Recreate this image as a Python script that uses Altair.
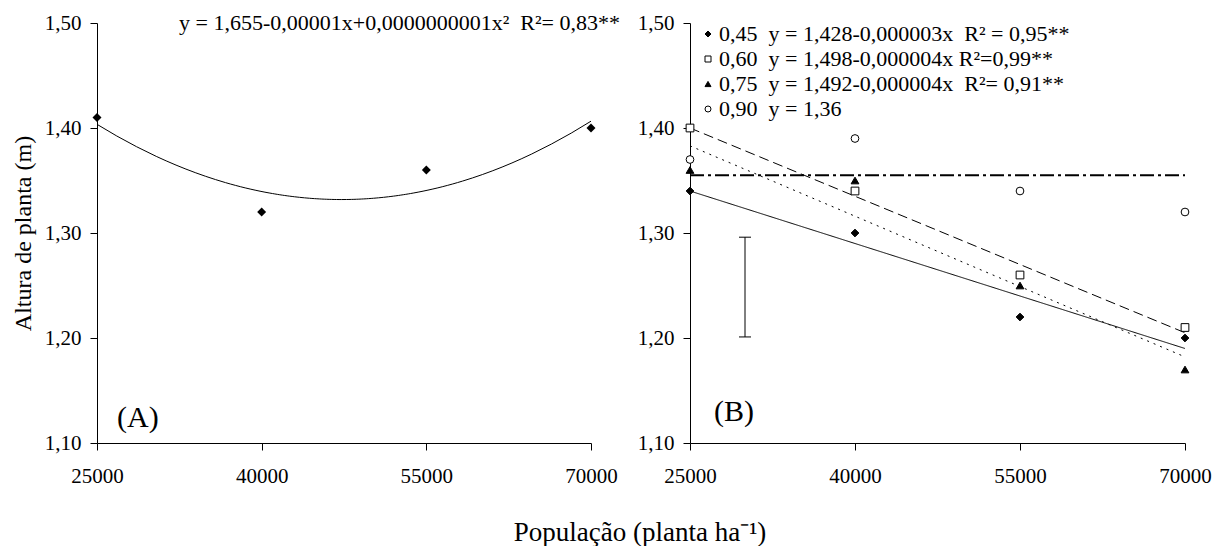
import altair as alt
import pandas as pd

FONT = "Liberation Serif"

# ---------------- data ----------------
populacao = [25000, 40000, 55000, 70000]

# Panel A
altura_a = [1.41, 1.32, 1.36, 1.40]
eq_a = "y = 1,655-0,00001x+0,0000000001x²\u00a0 R²= 0,83**"

# Panel B
serie_nomes = ["0,45", "0,60", "0,75", "0,90"]
serie_eqs = [
    "y = 1,428-0,000003x\u00a0 R² = 0,95**",
    "y = 1,498-0,000004x R²=0,99**",
    "y = 1,492-0,000004x\u00a0 R²= 0,91**",
    "y = 1,36",
]
altura_045 = [1.34, 1.30, 1.22, 1.20]
altura_060 = [1.40, 1.34, 1.26, 1.21]
altura_075 = [1.36, 1.35, 1.25, 1.17]
altura_090 = [1.37, 1.39, 1.34, 1.32]
series_b = [altura_045, altura_060, altura_075, altura_090]

# error bar (DMS)
erro_x = [30000]
erro_min = [1.201]
erro_max = [1.296]

y_ticks = [1.10, 1.20, 1.30, 1.40, 1.50]

# ---------------- tables ----------------
df_a = pd.DataFrame({"pop": populacao, "altura": altura_a})

labels = [n + "\u00a0 " + e for n, e in zip(serie_nomes, serie_eqs)]
rows = []
for lab, vals in zip(labels, series_b):
    for p, v in zip(populacao, vals):
        rows.append({"serie": lab, "pop": p, "altura": v})
df_b = pd.DataFrame(rows)
df_err = pd.DataFrame({"ex": erro_x, "lo": erro_min, "hi": erro_max})

# ---------------- styles ----------------
shapes = ["diamond", "square", "triangle-up", "circle"]
fills = ["black", "white", "black", "white"]
strokes = ["black", "black", "black", "black"]
dashes = [[1, 0], [10, 5], [2, 5]]

W, H = 494, 420
SPACING = 99

xscale = alt.Scale(domain=[25000, 70000], nice=False, zero=False)
yscale = alt.Scale(domain=[1.10, 1.50], nice=False, zero=False)


def xaxis():
    return alt.Axis(values=populacao, format="d", title=None, grid=False,
                    tickSize=7, labelPadding=15, labelFontSize=21,
                    labelFont=FONT, labelColor="black", domainColor="black",
                    tickColor="black", labelFlush=False, labelOverlap=False)


def yaxis(title):
    kw = dict(values=y_ticks, labelExpr="replace(format(datum.value,'.2f'),'.',',')",
              grid=False, tickSize=7, labelPadding=9, labelFontSize=21,
              labelFont=FONT, labelColor="black", domainColor="black",
              tickColor="black", labelFlush=False, labelOverlap=False)
    if title:
        kw.update(title=title, titleFont=FONT, titleFontSize=24,
                  titleFontWeight="normal", titleColor="black", titlePadding=9)
    else:
        kw.update(title=None)
    return alt.Axis(**kw)


XA = alt.X("pop:Q", scale=xscale, axis=xaxis())
YA = alt.Y("altura:Q", scale=yscale, axis=yaxis("Altura de planta (m)"))

# ---------------- panel A ----------------
base_a = alt.Chart(df_a)
pts_a = base_a.mark_point(shape="diamond", filled=True, color="black",
                          size=80, opacity=1).encode(x=XA, y=YA)
fit_a = base_a.transform_regression(
    "pop", "altura", method="poly", order=2, extent=[25000, 70000]
).mark_line(color="black", strokeWidth=1).encode(x=XA, y=YA)
eq_text_a = base_a.transform_filter("datum.pop == 25000").mark_text(
    text=eq_a, align="left", baseline="middle", font=FONT, fontSize=22,
    color="black").encode(x=alt.value(82), y=alt.value(0))
tag_a = base_a.transform_filter("datum.pop == 25000").mark_text(
    text="(A)", align="left", baseline="middle", font=FONT, fontSize=30,
    color="black").encode(x=alt.value(20), y=alt.value(395))

panel_a = alt.layer(fit_a, pts_a, eq_text_a, tag_a).properties(width=W, height=H)

# ---------------- panel B ----------------
XB = alt.X("pop:Q", scale=xscale, axis=xaxis())
YB = alt.Y("altura:Q", scale=yscale, axis=yaxis(None))
base_b = alt.Chart(df_b)

lines_b = base_b.transform_filter(
    alt.FieldOneOfPredicate(field="serie", oneOf=labels[:3])
).transform_regression(
    "pop", "altura", groupby=["serie"], extent=[25000, 70000]
).mark_line(color="black", strokeWidth=1).encode(
    x=XB, y=YB,
    strokeDash=alt.StrokeDash("serie:N", scale=alt.Scale(domain=labels[:3], range=dashes),
                              legend=None),
)

mean_b = base_b.transform_filter(
    alt.FieldEqualPredicate(field="serie", equal=labels[3])
).mark_rule(color="black", strokeWidth=2, strokeDash=[14, 4, 3, 4]).encode(
    x=alt.X("min(pop):Q", scale=xscale, axis=xaxis()),
    x2=alt.X2("max(pop):Q"),
    y=alt.Y("mean(altura):Q", scale=yscale, axis=yaxis(None)),
)

# legend position is relative to the concat origin (panel A plot origin)
leg = alt.Legend(title=None, orient="none", legendX=W + SPACING + 7, legendY=0,
                 labelFont=FONT, labelFontSize=22, labelColor="black",
                 labelLimit=600, symbolSize=36, symbolStrokeWidth=1,
                 rowPadding=3, labelOffset=0, padding=0, symbolOpacity=1)

pts_b = base_b.mark_point(filled=True, strokeWidth=1, size=60, opacity=1).encode(
    x=XB, y=YB,
    shape=alt.Shape("serie:N", scale=alt.Scale(domain=labels, range=shapes), legend=leg),
    fill=alt.Fill("serie:N", scale=alt.Scale(domain=labels, range=fills), legend=leg),
    stroke=alt.Stroke("serie:N", scale=alt.Scale(domain=labels, range=strokes), legend=leg),
)

err = alt.Chart(df_err)
err_v = err.mark_rule(color="black", strokeWidth=1).encode(
    x=alt.X("ex:Q", scale=xscale, axis=xaxis()),
    y=alt.Y("lo:Q", scale=yscale, axis=yaxis(None)), y2="hi:Q")
err_lo = err.mark_rule(color="black", strokeWidth=1, xOffset=-6, x2Offset=6).encode(
    x=alt.X("ex:Q", scale=xscale, axis=xaxis()), x2="ex:Q",
    y=alt.Y("lo:Q", scale=yscale, axis=yaxis(None)))
err_hi = err.mark_rule(color="black", strokeWidth=1, xOffset=-6, x2Offset=6).encode(
    x=alt.X("ex:Q", scale=xscale, axis=xaxis()), x2="ex:Q",
    y=alt.Y("hi:Q", scale=yscale, axis=yaxis(None)))

tag_b = err.mark_text(text="(B)", align="left", baseline="middle", font=FONT,
                      fontSize=30, color="black").encode(x=alt.value(24), y=alt.value(389))
xtitle = err.mark_text(text="População (planta ha⁻¹)", align="center",
                       baseline="alphabetic", font=FONT, fontSize=27,
                       color="black").encode(x=alt.value(-50), y=alt.value(518))

panel_b = alt.layer(lines_b, mean_b, err_v, err_lo, err_hi, pts_b, tag_b, xtitle).properties(
    width=495, height=H)

chart = alt.hconcat(panel_a, panel_b, spacing=SPACING, bounds="flush").properties(
    padding={"left": 11, "top": 12, "right": 0, "bottom": 0}
).configure_view(stroke=None)

chart.save("out.html", embed_options={"renderer": "svg", "actions": False})
